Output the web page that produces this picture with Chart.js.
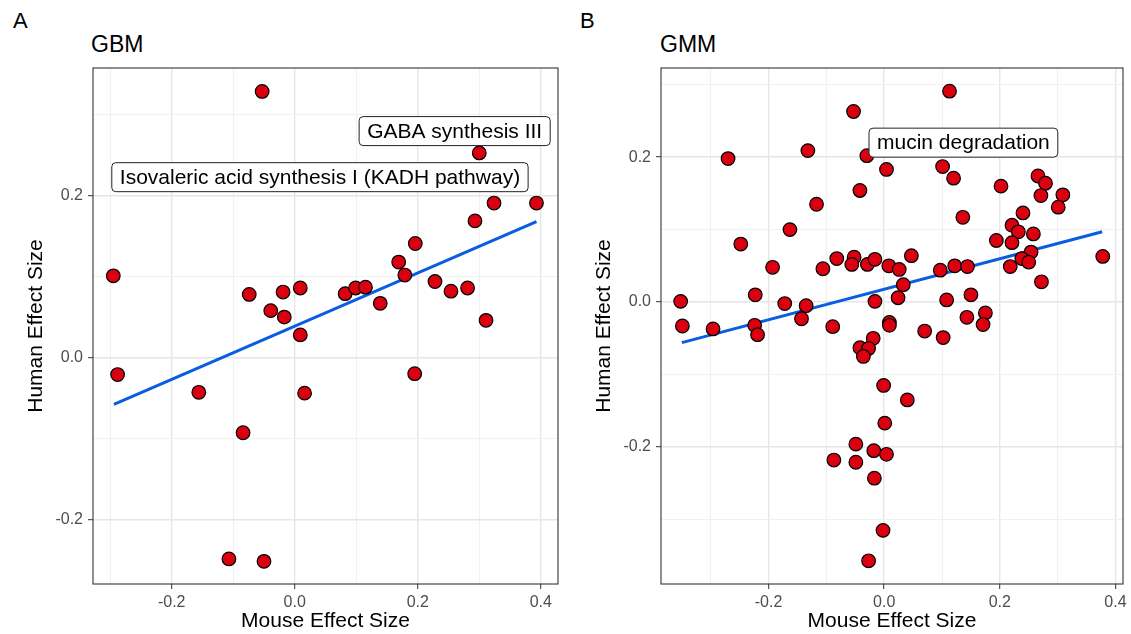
<!DOCTYPE html>
<html lang="en">
<head>
<meta charset="UTF-8">
<title>GBM / GMM effect sizes</title>
<script src="https://cdn.jsdelivr.net/npm/chart.js"></script>
<style>
  body { margin: 0; background: #fff; font-family: "Liberation Sans", Arial, sans-serif; }
  .page { position: relative; width: 1131px; height: 634px; overflow: hidden; }
  .panel { position: absolute; top: 0; height: 634px; }
  .tag, .ttl { position: absolute; line-height: 1; color: #000; white-space: nowrap; }
  .tag { font-size: 22px; top: 10px; }
  .ttl { font-size: 23px; top: 33px; }
</style>
</head>
<body>
<div class="page">
  <div class="tag" style="left:13px">A</div>
  <div class="ttl" style="left:91px">GBM</div>
  <div class="tag" style="left:580px">B</div>
  <div class="ttl" style="left:660px">GMM</div>
  <div class="panel" style="left:0; width:566px"><canvas id="gbm"></canvas></div>
  <div class="panel" style="left:566px; width:565px"><canvas id="gmm"></canvas></div>
</div>

<script>
// ---- data ----
const gbmMouse = [-0.053, -0.295, -0.074, -0.019, 0.009, -0.039, -0.017, 0.300, 0.324, 0.393,
                  0.293, 0.196, 0.169, 0.179, 0.228, 0.254, 0.281, 0.082, 0.099, 0.115,
                  0.139, 0.311, -0.288, -0.156, -0.084, -0.107, -0.050, 0.016, 0.009, 0.195];
const gbmHuman = [0.329, 0.101, 0.078, 0.081, 0.086, 0.058, 0.050, 0.253, 0.191, 0.191,
                  0.169, 0.141, 0.118, 0.102, 0.094, 0.082, 0.086, 0.079, 0.086, 0.087,
                  0.067, 0.046, -0.021, -0.043, -0.093, -0.249, -0.252, -0.044, 0.028, -0.020];
const gbmFitX = [-0.294, 0.393];
const gbmFitY = [-0.058, 0.168];
const gbmLabels = ['GABA synthesis III', 'Isovaleric acid synthesis I (KADH pathway)'];
const gbmLabelX = [0.260, 0.041];
const gbmLabelY = [0.280, 0.223];

const gmmMouse = [-0.053, -0.132, -0.270, -0.030, 0.004, -0.042, -0.117, -0.163, -0.248, -0.193,
                  -0.106, -0.082, -0.052, -0.056, -0.029, -0.016, 0.008, -0.352, -0.223, -0.172,
                  -0.135, -0.143, -0.016, -0.349, -0.296, -0.224, -0.219, -0.089, 0.009, 0.009,
                  -0.019, -0.042, -0.027, -0.036, -0.001, 0.001, -0.049, -0.087, -0.049, -0.018,
                  0.004, -0.017, -0.002, -0.027, 0.040, 0.070, 0.102, 0.143, 0.175, 0.171,
                  0.024, 0.108, 0.150, 0.113, 0.101, 0.120, 0.202, 0.266, 0.279, 0.271,
                  0.309, 0.301, 0.136, 0.240, 0.221, 0.232, 0.258, 0.194, 0.221, 0.047,
                  0.254, 0.238, 0.250, 0.218, 0.378, 0.026, 0.033, 0.097, 0.122, 0.144, 0.272];
const gmmHuman = [0.263, 0.209, 0.198, 0.202, 0.183, 0.154, 0.135, 0.100, 0.080, 0.048,
                  0.046, 0.060, 0.062, 0.052, 0.052, 0.059, 0.050, 0.001, 0.010, -0.002,
                  -0.005, -0.023, 0.001, -0.033, -0.037, -0.032, -0.045, -0.034, -0.028, -0.032,
                  -0.050, -0.063, -0.064, -0.075, -0.115, -0.167, -0.196, -0.218, -0.221, -0.205,
                  -0.210, -0.243, -0.315, -0.357, -0.135, -0.040, -0.049, -0.021, -0.015, -0.031,
                  0.006, 0.003, 0.010, 0.291, 0.187, 0.171, 0.160, 0.174, 0.164, 0.147,
                  0.148, 0.131, 0.117, 0.123, 0.106, 0.097, 0.094, 0.085, 0.082, 0.064,
                  0.069, 0.060, 0.055, 0.049, 0.063, 0.045, 0.024, 0.044, 0.050, 0.049, 0.028];
const gmmFitX = [-0.350, 0.377];
const gmmFitY = [-0.056, 0.097];
const gmmLabels = ['mucin degradation'];
const gmmLabelX = [0.137];
const gmmLabelY = [0.220];

// labelled breaks; minor grid lines sit half way between them
const gbmXTicks = [-0.2, 0.0, 0.2, 0.4];
const gbmYTicks = [-0.2, 0.0, 0.2];
const gmmXTicks = [-0.2, 0.0, 0.2, 0.4];
const gmmYTicks = [-0.2, 0.0, 0.2];

Chart.defaults.font.family = '"Liberation Sans", Arial, sans-serif';

function axis(isX, min, max, majors, title, size, titlePad) {
  const major = v => majors.some(m => Math.abs(m - v) < 1e-6);
  const isMaj = c => c.tick && major(c.tick.value);
  return {
    type: 'linear',
    position: isX ? 'bottom' : 'left',
    min: min,
    max: max,
    afterFit: s => { if (isX) s.height = size; else s.width = size; },
    ticks: {
      stepSize: 0.1,
      includeBounds: false,
      autoSkip: false,
      maxRotation: 0,
      padding: isX ? 4 : 5,
      color: '#4D4D4D',
      font: { size: 16 },
      callback: v => major(v) ? v.toFixed(1) : ''
    },
    grid: {
      color: c => isMaj(c) ? '#E6E6E6' : '#EFEFEF',
      lineWidth: c => isMaj(c) ? 1.4 : 0.9,
      tickLength: 5,
      tickColor: c => isMaj(c) ? '#333333' : 'rgba(0,0,0,0)',
      tickWidth: 1
    },
    border: { display: false },
    title: {
      display: true,
      text: title,
      color: '#000',
      font: { size: 21, lineHeight: 1 },
      padding: isX ? { top: 0, bottom: titlePad } : { top: titlePad, bottom: 0 }
    }
  };
}

function makeChart(id, o) {
  const boxes = {
    id: 'boxes',
    afterDatasetsDraw(chart) {
      const { ctx, chartArea: a, scales } = chart;
      ctx.save();
      ctx.strokeStyle = '#333333';
      ctx.lineWidth = 1.1;
      ctx.strokeRect(a.left, a.top, a.right - a.left, a.bottom - a.top);
      ctx.font = '21px "Liberation Sans", Arial, sans-serif';
      ctx.textAlign = 'center';
      ctx.textBaseline = 'middle';
      o.labels.forEach((t, i) => {
        const cx = scales.x.getPixelForValue(o.labelX[i]);
        const cy = scales.y.getPixelForValue(o.labelY[i]);
        const w = ctx.measureText(t).width + 16, h = 29;
        ctx.beginPath();
        ctx.roundRect(cx - w / 2, cy - h / 2, w, h, 4);
        ctx.fillStyle = '#fff';
        ctx.fill();
        ctx.strokeStyle = '#222';
        ctx.lineWidth = 1;
        ctx.stroke();
        ctx.fillStyle = '#000';
        ctx.fillText(t, cx, cy + 1);
      });
      ctx.restore();
    }
  };

  return new Chart(document.getElementById(id), {
    type: 'scatter',
    data: {
      datasets: [{
        data: o.mx.map((x, i) => ({ x: x, y: o.hy[i] })),
        backgroundColor: '#DA000F',
        borderColor: '#000',
        borderWidth: 1.2,
        pointRadius: 6.8,
        order: 1
      }, {
        type: 'line',
        data: o.fx.map((x, i) => ({ x: x, y: o.fy[i] })),
        borderColor: '#0A5CE0',
        borderWidth: 3,
        pointRadius: 0,
        fill: false,
        order: 2
      }]
    },
    options: {
      responsive: true,
      maintainAspectRatio: false,
      animation: false,
      layout: { padding: o.pad },
      plugins: { legend: { display: false }, tooltip: { enabled: false } },
      scales: {
        x: axis(true, o.xr[0], o.xr[1], o.xt, 'Mouse Effect Size', 50, 2.5),
        y: axis(false, o.yr[0], o.yr[1], o.yt, 'Human Effect Size', o.yw, o.yTitle)
      }
    },
    plugins: [boxes]
  });
}

makeChart('gbm', {
  mx: gbmMouse, hy: gbmHuman, fx: gbmFitX, fy: gbmFitY,
  labels: gbmLabels, labelX: gbmLabelX, labelY: gbmLabelY,
  xt: gbmXTicks, yt: gbmYTicks,
  xr: [-0.328, 0.428], yr: [-0.280, 0.358],
  pad: { left: 0, right: 8, top: 68, bottom: 0 }, yw: 93, yTitle: 25.5
});

makeChart('gmm', {
  mx: gmmMouse, hy: gmmHuman, fx: gmmFitX, fy: gmmFitY,
  labels: gmmLabels, labelX: gmmLabelX, labelY: gmmLabelY,
  xt: gmmXTicks, yt: gmmYTicks,
  xr: [-0.386, 0.413], yr: [-0.389, 0.323],
  pad: { left: 0, right: 5, top: 68, bottom: 0 }, yw: 95, yTitle: 27.5
});
</script>
</body>
</html>
